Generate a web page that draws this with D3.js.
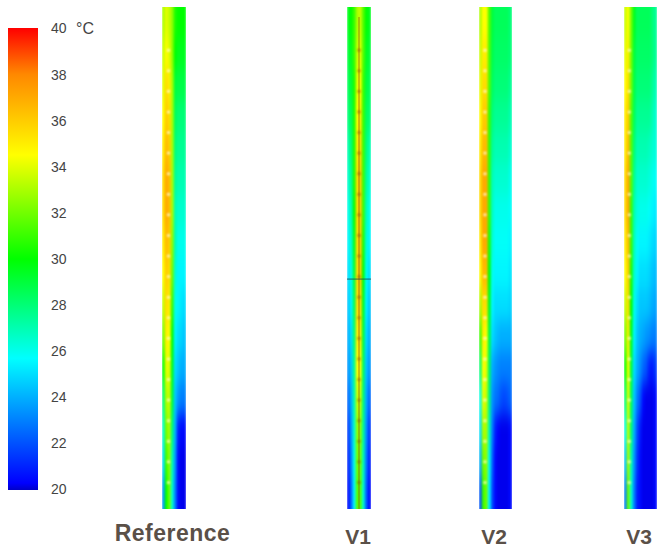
<!DOCTYPE html>
<html>
<head>
<meta charset="utf-8">
<script src="https://d3js.org/d3.v7.min.js"></script>
<style>
  body { margin: 0; background: #fff; font-family: "Liberation Sans", Arial, sans-serif; }
  svg { display: block; }
</style>
</head>
<body>
<svg id="chart" width="657" height="547"></svg>
<script>
// colour bar
const colorStops = [20, 20.3, 25.7, 30, 34.5, 38, 40];
const colorValues = ['#0000c8', '#0000ff', '#00ffff', '#00ff00', '#ffff00', '#ff8800', '#ff0000'];
const tickLabels = [20, 22, 24, 26, 28, 30, 32, 34, 36, 38, 40];

// temperature (deg C) per height row (top to bottom), columns left to right
const rowNames = ['r1', 'r2', 'r3', 'r4', 'r5', 'r6', 'r7', 'r8', 'r9', 'r10', 'r11', 'r12', 'r13', 'r14', 'r15', 'r16'];

const tempReference = [
  [33, 34, 33.5, 32.5, 30.5, 30, 30, 30],
  [33.5, 34.5, 34, 32.5, 30, 29.5, 29.5, 29.5],
  [34, 35.5, 35, 33, 29, 28.8, 28.8, 28.8],
  [34.5, 36, 35.5, 33, 28.5, 28, 28, 28],
  [35, 36.5, 36, 33, 28, 27.5, 27.5, 27.5],
  [35.5, 37, 36.5, 33, 27.5, 27, 27, 27],
  [35.5, 37, 36.5, 33, 27, 26.5, 26.5, 26.5],
  [35, 36.5, 36, 32.5, 27, 26, 26, 26],
  [34.5, 36, 35.5, 32, 26.5, 25.5, 25.5, 25.5],
  [33.5, 35.5, 35, 31, 26, 25.5, 25.2, 25],
  [32, 35, 34.5, 30, 25.5, 25, 24.8, 24.5],
  [30, 34, 34, 29.5, 25, 24.5, 24, 24],
  [28, 33, 33.5, 29, 24.5, 23.5, 23, 23],
  [26.5, 32, 33, 28, 24, 21, 20.5, 20.5],
  [25, 31, 32.5, 27, 23.5, 20.5, 20.2, 20.2],
  [23.5, 30, 32, 26.5, 23, 20.5, 20.2, 20.2]
];

const tempV1 = [
  [29.5, 30, 31, 33, 33.5, 31.5, 30, 29.5],
  [29, 29.5, 31, 33.5, 34, 31.5, 29.5, 29],
  [28.5, 29, 30.5, 34, 34.5, 31, 29, 28.5],
  [28, 28.5, 30.5, 34.5, 35, 31, 28.5, 28],
  [27, 28, 30.5, 35, 35.5, 31, 28, 27],
  [26.5, 27.5, 30.5, 35.5, 36, 31, 27.5, 26.5],
  [26, 27, 30, 35.5, 36, 31, 27, 26],
  [25.5, 26.5, 29.5, 35.5, 36, 30.5, 26.5, 25.5],
  [25, 26, 29, 35.5, 36, 30, 26, 25],
  [24.5, 25.5, 28.5, 35.5, 35.5, 29.5, 25.5, 24.5],
  [24, 25, 28, 35, 35, 29, 25, 24],
  [23.5, 24.5, 27.5, 34.5, 34.5, 28.5, 24.5, 23.5],
  [22.5, 24, 27, 33.5, 33.5, 28, 24, 22.5],
  [21.5, 23.5, 26.5, 32.5, 32.5, 27.5, 23.5, 21.5],
  [21, 23, 26, 32, 32, 27, 23, 21],
  [20.5, 22.5, 25.5, 31.5, 31.5, 26.5, 22.5, 20.5]
];

const tempV2 = [
  [33, 34.5, 34.5, 31.5, 29, 28.5, 28.5, 28.5, 28.5, 28.5, 28],
  [33.5, 35, 35, 31.5, 28.8, 28.3, 28.3, 28.3, 28.3, 28.3, 28],
  [34, 35.5, 35.5, 31.5, 28.5, 28, 28, 28, 28, 28, 27.5],
  [34.5, 36, 36, 31, 28, 27.5, 27.5, 27.5, 27.5, 27.5, 27],
  [35, 36.5, 36.5, 31, 27.5, 27, 27, 27, 27, 27, 26.5],
  [35.5, 37, 37, 31, 27, 26.5, 26.5, 26.5, 26.5, 26.5, 26],
  [35.5, 37, 37, 31, 26.8, 26, 26, 26, 26, 26, 25.8],
  [35, 37, 37, 30.5, 26.5, 25.8, 25.8, 25.8, 25.8, 25.8, 25.5],
  [34.5, 36.5, 36.5, 30, 26, 25.5, 25.5, 25.5, 25.5, 25.5, 25.2],
  [33, 35.5, 35.5, 29.5, 25.5, 25, 25, 25, 25, 25, 24.8],
  [31, 35, 34.5, 29, 25, 24.5, 24.2, 24, 24, 24, 24],
  [28, 34.5, 34, 28.5, 24, 23.5, 23.2, 23, 23, 23, 23],
  [26, 34, 33.5, 28, 23.5, 22.8, 22.5, 22, 21.8, 22, 22.5],
  [25, 33, 33, 27, 23, 21, 20.3, 20.2, 20.2, 20.2, 20.5],
  [24, 32, 32.5, 26, 22.5, 20.5, 20.2, 20.2, 20.2, 20.2, 20.5],
  [22, 31, 32, 25.5, 22, 20.5, 20.2, 20.2, 20.2, 20.2, 20.5]
];

const tempV3 = [
  [33.5, 34.5, 32, 29.5, 28.5, 28.5, 28.5, 28.5, 28.5, 28, 27.5],
  [34, 35, 32, 29, 28.3, 28.3, 28.3, 28.3, 28.3, 28, 27.5],
  [34.5, 35.5, 32, 28.8, 28, 28, 28, 28, 28, 27.5, 27],
  [35, 36, 31.5, 28.5, 27.5, 27.5, 27.5, 27.5, 27.5, 27, 26.5],
  [35, 36.5, 31.5, 28, 27, 27, 27, 27, 26.8, 26.5, 26.3],
  [35.5, 37, 31.5, 27.5, 26.5, 26.5, 26.5, 26.5, 26.3, 26, 25.8],
  [35.5, 37, 31, 27, 26.2, 26, 26, 26, 25.8, 25.5, 25.3],
  [35, 36.5, 31, 26.8, 25.8, 25.5, 25.5, 25.5, 25.3, 25, 24.8],
  [34.5, 36, 30.5, 26.5, 25.5, 25, 25, 25, 24.8, 24.5, 24.3],
  [33.5, 35.5, 30, 26, 25, 24.5, 24.5, 24.5, 24.3, 24, 23.8],
  [32, 35, 29.5, 25.5, 24.5, 24, 23.8, 23.5, 23.3, 23, 23],
  [30, 34.5, 29, 25, 24, 23.3, 22.5, 22, 21, 20.8, 21.5],
  [28, 34, 28.5, 24.5, 23, 22, 20.5, 20.2, 20.2, 20.2, 20.5],
  [26, 33.5, 28, 24, 22, 20.8, 20.2, 20.2, 20.2, 20.2, 20.5],
  [24.5, 33, 27, 23.5, 21.5, 20.5, 20.2, 20.2, 20.2, 20.2, 20.5],
  [23, 32, 26.5, 23, 21, 20.5, 20.2, 20.2, 20.2, 20.2, 20.5]
];

// fin heights, percent of the channel height from the top
const finHeights = [8.6, 12.7, 16.8, 20.9, 25, 29.1, 33.2, 37.3, 41.4, 45.5, 49.6, 53.7, 57.8, 61.9, 66, 70.1, 74.2, 78.3, 82.4, 86.5, 90.6, 94.7];

const panelNames = ['Reference', 'V1', 'V2', 'V3'];
const panelTemps = [tempReference, tempV1, tempV2, tempV3];
const panelLeft = [162, 347, 479, 624];
const panelRight = [186, 371, 512, 657];
const finOffset = [0.27, 0.5, 0.18, 0.16];
const labelCenter = [172.5, 358, 494, 639];
const labelBaseline = [541, 544, 544, 544];
const labelSize = [23, 21, 21, 21];
const labelSpacing = [0.5, 0, 0, 0];

const panelTop = 7;
const panelBottom = 509;

const svg = d3.select('#chart');
const defs = svg.append('defs');

const color = d3.scaleLinear().domain(colorStops).range(colorValues).clamp(true);

// soft filter, the source is a blurry screenshot
const soft = defs.append('filter').attr('id', 'soft')
  .attr('filterUnits', 'userSpaceOnUse')
  .attr('x', 0).attr('y', -40).attr('width', 657).attr('height', 627)
  .attr('color-interpolation-filters', 'sRGB');
soft.append('feGaussianBlur').attr('stdDeviation', '0.8 9');

const finBlur = defs.append('filter').attr('id', 'finBlur')
  .attr('filterUnits', 'userSpaceOnUse')
  .attr('x', 0).attr('y', 0).attr('width', 657).attr('height', 547);
finBlur.append('feGaussianBlur').attr('stdDeviation', 0.8);

// colour bar
const barY = d3.scaleLinear().domain([20, 40]).range([489, 28]);
const gradient = defs.append('linearGradient').attr('id', 'barGrad')
  .attr('x1', 0).attr('x2', 0).attr('y1', 1).attr('y2', 0);
colorStops.forEach(t => {
  gradient.append('stop')
    .attr('offset', (t - 20) / 20)
    .attr('stop-color', color(t));
});

svg.append('rect')
  .attr('x', 8).attr('width', 30)
  .attr('y', barY(40)).attr('height', barY(20) - barY(40) + 1)
  .attr('fill', 'url(#barGrad)');

const barAxis = d3.axisRight(barY).tickValues(tickLabels).tickSize(0).tickPadding(0);
const axisG = svg.append('g').attr('transform', 'translate(51,0.5)').call(barAxis);
axisG.select('.domain').remove();
axisG.selectAll('text')
  .attr('font-family', '"Liberation Sans", Arial, sans-serif')
  .attr('font-size', 14)
  .attr('fill', '#444');

svg.append('text')
  .attr('x', 76).attr('y', 34)
  .attr('font-size', 16).attr('fill', '#444')
  .text('°C');

// channels
panelNames.forEach((name, p) => {
  const temps = panelTemps[p];
  const cols = d3.range(temps[0].length);
  const x = d3.scaleBand().domain(cols).range([panelLeft[p], panelRight[p]]);
  const y = d3.scaleBand().domain(rowNames).range([panelTop, panelBottom]);
  const yPct = d3.scaleLinear().domain([0, 100]).range([panelTop, panelBottom]);
  const xPct = d3.scaleLinear().domain([0, 1]).range([panelLeft[p], panelRight[p]]);

  const clipId = 'clip' + p;
  defs.append('clipPath').attr('id', clipId).append('rect')
    .attr('x', panelLeft[p]).attr('y', panelTop)
    .attr('width', panelRight[p] - panelLeft[p])
    .attr('height', panelBottom - panelTop);

  const outer = svg.append('g').attr('clip-path', `url(#${clipId})`);
  const cells = outer.append('g').attr('filter', 'url(#soft)');

  temps.forEach((row, r) => {
    // first and last rows run past the clip so the blur does not fade the ends
    const extra = 30;
    const top = y(rowNames[r]) - (r === 0 ? extra : 0);
    const bottom = y(rowNames[r]) + y.bandwidth() + (r === temps.length - 1 ? extra : 0);
    cells.selectAll(null)
      .data(row)
      .enter()
      .append('rect')
      .attr('x', (d, i) => x(i) - (i === 0 ? 0 : 0.3))
      .attr('width', x.bandwidth() + 0.6)
      .attr('y', top - 0.3)
      .attr('height', bottom - top + 0.6)
      .attr('fill', d => color(d));
  });

  const isV1 = name === 'V1';

  // fins
  outer.append('g').attr('filter', 'url(#finBlur)')
    .selectAll('circle')
    .data(finHeights)
    .enter()
    .append('circle')
    .attr('cx', xPct(finOffset[p]))
    .attr('cy', d => yPct(d))
    .attr('r', isV1 ? 1.6 : 1.5)
    .attr('fill', isV1 ? '#8a5a10' : '#fffbd0')
    .attr('opacity', isV1 ? 0.7 : 1);

  if (isV1) {
    // plate and section line drawn on the V1 channel
    outer.append('line')
      .attr('x1', xPct(0.5)).attr('x2', xPct(0.5))
      .attr('y1', yPct(2)).attr('y2', yPct(100))
      .attr('stroke', '#8a5a10').attr('stroke-width', 1).attr('opacity', 0.75);
    outer.append('line')
      .attr('x1', xPct(0)).attr('x2', xPct(1))
      .attr('y1', yPct(54.2)).attr('y2', yPct(54.2))
      .attr('stroke', '#1c4a50').attr('stroke-width', 1).attr('opacity', 0.85);
  }

  svg.append('text')
    .attr('x', labelCenter[p]).attr('y', labelBaseline[p])
    .attr('text-anchor', 'middle')
    .attr('font-size', labelSize[p]).attr('font-weight', 'bold')
    .attr('letter-spacing', labelSpacing[p])
    .attr('fill', '#5a5048')
    .text(name);
});
</script>
</body>
</html>
